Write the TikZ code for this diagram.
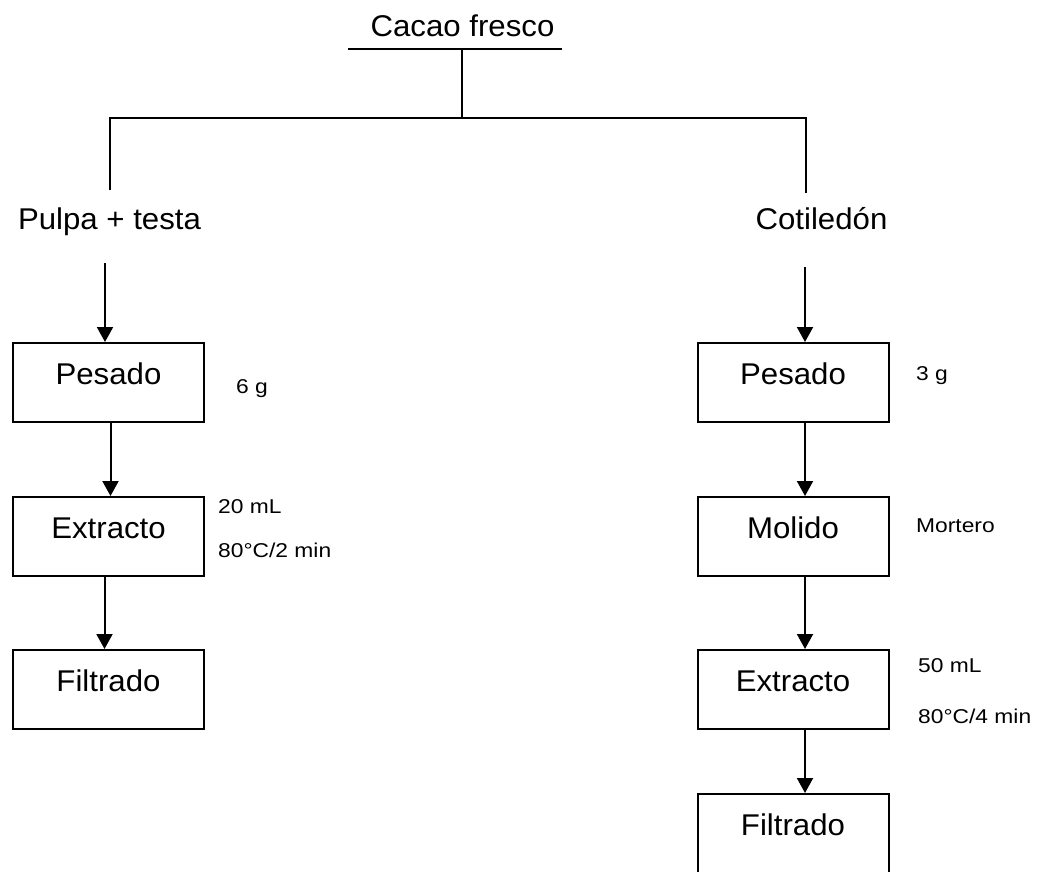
\documentclass[tikz,border=0pt]{standalone}
\usepackage{fontspec}
\setmainfont{Liberation Sans}
\newfontfamily\bigf{Liberation Sans}[FakeStretch=1.04]
\newfontfamily\smf{Liberation Sans}[FakeStretch=1.14]
\usetikzlibrary{arrows.meta}
\tikzset{
  stepbox/.style={draw, line width=2pt, minimum width=191pt, inner sep=0pt,
    text height=41pt, text depth=38pt, anchor=north,
    font=\bigf\fontsize{30}{34}\selectfont},
  bigtxt/.style={inner sep=0pt, anchor=base, font=\bigf\fontsize{30}{34}\selectfont},
  smtxt/.style={inner sep=0pt, anchor=base west, font=\smf\fontsize{20}{23}\selectfont},
  ln/.style={line width=2pt},
  arr/.style={line width=2pt, -{Triangle[width=16pt,length=15pt]}}
}
\begin{document}
\begin{tikzpicture}[x=1pt,y=-1pt]
\clip (0,0) rectangle (1049,871);
\fill[white] (0,0) rectangle (1049,871);
% title
\node[bigtxt] (title) at (462.5,36) {Cacao fresco};
\coordinate (ul) at (348,49);
\coordinate (ur) at (562,49);
\coordinate (jc) at (462,49);
\coordinate (jh) at (462,118);
\coordinate (hl) at (110,118);
\coordinate (hr) at (806,118);
\coordinate (vl) at (110,190);
\coordinate (vr) at (806,193);
\draw[ln] (ul) -- (ur);
\draw[ln] (jc) -- (jh);
\draw[ln] (vl) -- (hl) -- (hr) -- (vr);
% branch labels
\node[bigtxt] (pulpa) at (109.5,229) {Pulpa + testa};
\node[bigtxt] (cotil) at (821.5,229) {Cotiled\'on};
% left column
\node[stepbox] (lp) at (108.5,342) {Pesado};
\node[stepbox] (le) at (108.5,496) {Extracto};
\node[stepbox] (lf) at (108.5,649) {Filtrado};
\coordinate (la) at (105,263);
\draw[arr] (la) -- (la |- lp.north);
\draw[arr] ([xshift=2pt]lp.south) -- ([xshift=2pt]le.north);
\draw[arr] ([xshift=-4pt]le.south) -- ([xshift=-4pt]lf.north);
\node[smtxt] (l6g) at (236,393) {6 g};
\node[smtxt] (l20) at (218,513) {20 mL};
\node[smtxt] (l80) at (218,557) {80°C/2 min};
% right column
\node[stepbox] (rp) at (793,342) {Pesado};
\node[stepbox] (rm) at (793,496) {Molido};
\node[stepbox] (re) at (793,649) {Extracto};
\node[stepbox, text depth=45pt] (rf) at (793,793) {Filtrado};
\coordinate (ra) at (805,267);
\draw[arr] (ra) -- (ra |- rp.north);
\draw[arr] ([xshift=12pt]rp.south) -- ([xshift=12pt]rm.north);
\draw[arr] ([xshift=12pt]rm.south) -- ([xshift=12pt]re.north);
\draw[arr] ([xshift=12pt]re.south) -- ([xshift=12pt]rf.north);
\node[smtxt] (r3g) at (916,380) {3 g};
\node[smtxt] (rmo) at (916,532) {Mortero};
\node[smtxt] (r50) at (918,672) {50 mL};
\node[smtxt] (r80) at (918,723) {80°C/4 min};
\end{tikzpicture}
\end{document}
